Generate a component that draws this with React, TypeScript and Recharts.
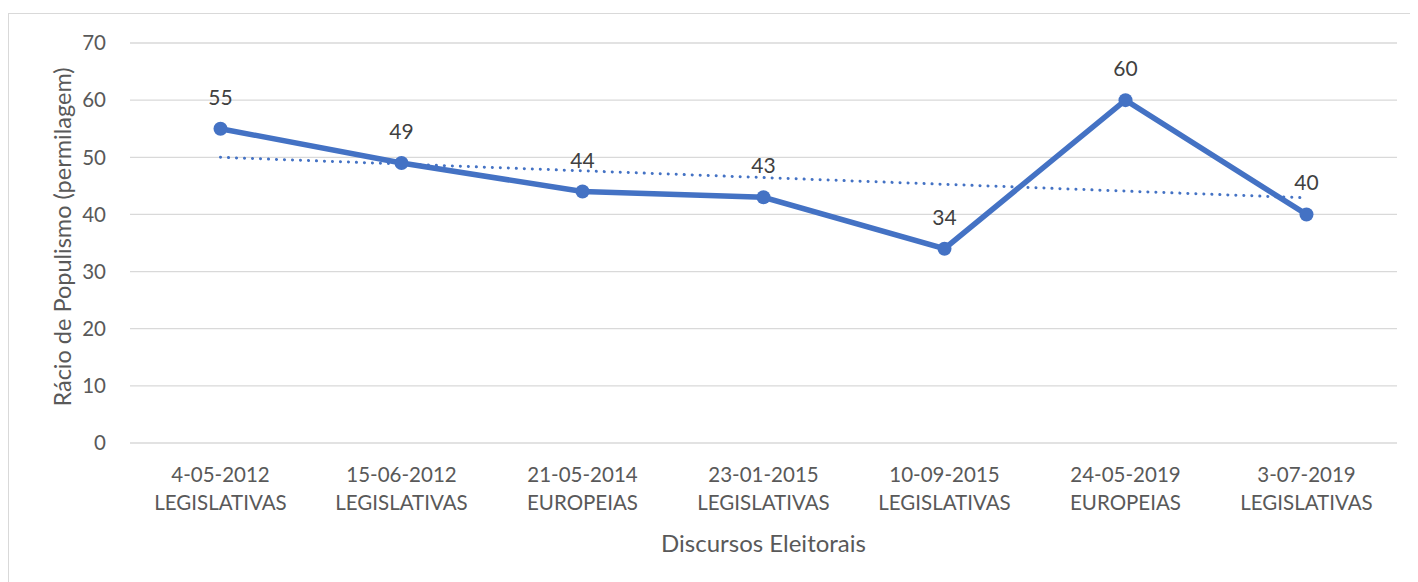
import React from "react";
import { LineChart, Line, XAxis, YAxis, CartesianGrid, LabelList, Label } from "recharts";

const dates = ["4-05-2012", "15-06-2012", "21-05-2014", "23-01-2015", "10-09-2015", "24-05-2019", "3-07-2019"];
const elections = ["LEGISLATIVAS", "LEGISLATIVAS", "EUROPEIAS", "LEGISLATIVAS", "LEGISLATIVAS", "EUROPEIAS", "LEGISLATIVAS"];
const ratio = [55, 49, 44, 43, 34, 60, 40];
const trend = [50, null, null, null, null, null, 42.9];
const yTicks = [0, 10, 20, 30, 40, 50, 60, 70];

const data = dates.map((d, i) => ({ key: d, date: d, election: elections[i], ratio: ratio[i], trend: trend[i] }));

const FONT = "Lato, 'Open Sans', sans-serif";
const BLUE = "#4472C4";

const XTick = (props: any) => {
  const { x, y, payload, index } = props;
  return (
    <g>
      <text x={x} y={y} textAnchor="middle" fill="#595959" fontFamily={FONT} fontSize={20.5}>
        <tspan x={x} dy={31}>{dates[index] ?? payload.value}</tspan>
        <tspan x={x} dy={28}>{elections[index]}</tspan>
      </text>
    </g>
  );
};

export default function App() {
  return (
    <div style={{ position: "relative", width: 1418, height: 582, margin: "-8px 0 0 -8px", overflow: "hidden", background: "#fff" }}>
      <div style={{ position: "absolute", left: 8, top: 13, width: 1430, height: 620, border: "1px solid #d9d9d9", boxSizing: "border-box" }} />
      <div style={{ position: "absolute", left: 0, top: 0 }}>
        <LineChart width={1418} height={582} data={data} margin={{ top: 43, right: 21, left: 50, bottom: 79 }}>
          <CartesianGrid vertical={false} stroke="#d9d9d9" strokeWidth={1.3} />
          <XAxis
            dataKey="key"
            axisLine={false}
            tickLine={false}
            interval={0}
            height={60}
            padding={{ left: 90.5, right: 90.5 }}
            tick={<XTick />}
          >
            <Label
              content={(p: any) => {
                const vb = p.viewBox;
                return (
                  <text x={vb.x + vb.width / 2} y={552} textAnchor="middle" fill="#595959" fontFamily={FONT} fontSize={24}>
                    Discursos Eleitorais
                  </text>
                );
              }}
            />
          </XAxis>
          <YAxis
            domain={[0, 70]}
            ticks={yTicks}
            axisLine={false}
            tickLine={false}
            width={80}
            tickMargin={18}
            tick={{ fill: "#595959", fontFamily: FONT, fontSize: 20.5 }}
          >
            <Label
              content={() => {
                const cx = 71;
                const cy = 237;
                return (
                  <text x={cx} y={cy} transform={`rotate(-90 ${cx} ${cy})`} textAnchor="middle" fill="#595959" fontFamily={FONT} fontSize={23.5}>
                    Rácio de Populismo (permilagem)
                  </text>
                );
              }}
            />
          </YAxis>
          <Line
            dataKey="trend"
            connectNulls
            stroke={BLUE}
            strokeWidth={3}
            strokeDasharray="0.1 7.9"
            strokeLinecap="round"
            dot={false}
            activeDot={false}
            isAnimationActive={false}
          />
          <Line
            dataKey="ratio"
            stroke={BLUE}
            strokeWidth={5.5}
            dot={{ r: 7, fill: BLUE, stroke: BLUE, strokeWidth: 0 }}
            activeDot={false}
            isAnimationActive={false}
          >
            <LabelList dataKey="ratio" position="top" offset={24} fill="#404040" fontFamily={FONT} fontSize={21} />
          </Line>
        </LineChart>
      </div>
    </div>
  );
}
